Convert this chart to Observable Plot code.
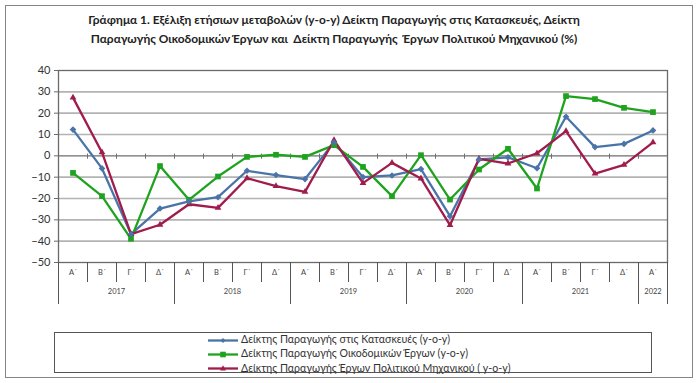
<!DOCTYPE html>
<html>
<head>
<meta charset="utf-8">
<script src="https://cdn.jsdelivr.net/npm/d3@7"></script>
<script src="https://cdn.jsdelivr.net/npm/@observablehq/plot@0.6"></script>
<style>
  html, body { margin: 0; padding: 0; background: #fff; }
  #page { position: relative; width: 700px; height: 383px; overflow: hidden; font-family: Lato, "Open Sans", sans-serif; }
  #outer { position: absolute; left: 5px; top: 5px; width: 686px; height: 371px; border: 1.5px solid #858585; }
  #title { position: absolute; left: 0; top: 10px; width: 668px; text-align: center; font-size: 11.9px; font-weight: bold; color: #222; line-height: 19px; }
  #chart { position: absolute; left: 0; top: 50px; }
  #legend { position: absolute; left: 54px; top: 332px; width: 596px; height: 39px; border: 1.5px solid #555; }
  .item { position: absolute; left: 153px; font-size: 10.6px; color: #333; height: 14px; line-height: 14px; white-space: nowrap; }
  .item svg { vertical-align: middle; margin-right: 3px; }
</style>
</head>
<body>
<div id="page">
  <div id="outer"></div>
  <div id="title">Γράφημα 1. Εξέλιξη ετήσιων μεταβολών (y-o-y) Δείκτη Παραγωγής στις Κατασκευές, Δείκτη<br>Παραγωγής Οικοδομικών Έργων και&nbsp; Δείκτη Παραγωγής&nbsp; Έργων Πολιτικού Μηχανικού (%)</div>
  <div id="chart"></div>
  <div id="legend"></div>
</div>
<script>
const quarters = ["Α΄","Β΄","Γ΄","Δ΄","Α΄","Β΄","Γ΄","Δ΄","Α΄","Β΄","Γ΄","Δ΄","Α΄","Β΄","Γ΄","Δ΄","Α΄","Β΄","Γ΄","Δ΄","Α΄"];
const years = ["2017","2018","2019","2020","2021","2022"];
const yearStart = [0, 4, 8, 12, 16, 20];
const yearEnd = [3, 7, 11, 15, 19, 20];

const seriesNames = [
  "Δείκτης Παραγωγής στις Κατασκευές (y-o-y)",
  "Δείκτης Παραγωγής Οικοδομικών Έργων (y-o-y)",
  "Δείκτης Παραγωγής Έργων Πολιτικού Μηχανικού ( y-o-y)"
];
const construction = [12.3, -5.9, -36.7, -24.7, -21.4, -19.4, -7.0, -9.0, -10.9, 6.3, -10.0, -9.2, -6.2, -28.3, -1.7, -0.7, -5.8, 18.3, 4.1, 5.6, 11.9];
const buildings    = [-8.0, -18.9, -38.9, -4.8, -20.6, -9.7, -0.5, 0.5, -0.5, 5.0, -5.2, -18.9, 0.3, -20.5, -6.4, 3.3, -15.3, 28.0, 26.6, 22.5, 20.5];
const civil        = [27.3, 1.6, -36.7, -32.3, -22.7, -24.4, -10.5, -14.2, -16.9, 7.3, -12.8, -3.3, -10.6, -32.5, -1.4, -3.6, 1.2, 11.6, -8.3, -4.2, 6.3];

const colors = ["#4a74a8", "#1fa31f", "#a01c4c"];
const symbols = ["diamond2", "square", "triangle2"];
const yTicks = [-50, -40, -30, -20, -10, 0, 10, 20, 30, 40];

const seriesValues = [construction, buildings, civil];
const data = [];
seriesValues.forEach((vals, s) => vals.forEach((v, i) => data.push({series: seriesNames[s], s, i, v})));

const idx = quarters.map((_, i) => i);
const boundaries = d3.range(quarters.length + 1).map(i => i - 0.5);
const yearBounds = yearStart.map(s => s - 0.5).concat([yearEnd[yearEnd.length - 1] + 0.5]);
const yearLabels = years.map((y, k) => ({y, x: (yearStart[k] + yearEnd[k]) / 2}));

const chart = Plot.plot({
  width: 700,
  height: 260,
  marginTop: 20,
  marginBottom: 48,
  marginLeft: 58,
  marginRight: 33,
  style: {fontFamily: "Lato, 'Open Sans', sans-serif", color: "#333", background: "transparent"},
  x: {type: "linear", domain: [-0.5, quarters.length - 0.5]},
  y: {domain: [-50, 40]},
  marks: [
    Plot.ruleY(yTicks.filter(t => t !== 0 && t !== -50 && t !== 40), {stroke: "#b3b3b3", strokeWidth: 1.6}),
    Plot.ruleY([0], {stroke: "#6e6e6e", strokeWidth: 1.3}),
    Plot.ruleX(boundaries.slice(1, -1), {y1: 0.8, y2: -1.6, stroke: "#6e6e6e", strokeWidth: 1}),
    Plot.frame({stroke: "#6a6a6a", strokeWidth: 1.3}),
    Plot.axisY({ticks: yTicks, tickSize: 4, tickPadding: 4, fontSize: 11, fill: "#333", stroke: "#6a6a6a", label: null}),
    Plot.axisX(boundaries, {tickSize: 20, tickFormat: () => "", stroke: "#555", label: null}),
    Plot.axisX(yearBounds, {tickSize: 42, tickFormat: () => "", stroke: "#555", label: null}),
    Plot.axisX(idx, {tickSize: 0, tickPadding: 7, tickFormat: i => quarters[i], fontSize: 7.5, fill: "#444", label: null}),
    Plot.text(yearLabels, {x: "x", text: "y", frameAnchor: "bottom", dy: 31, fontSize: 7.5, fill: "#444"}),
    Plot.line(data, {x: "i", y: "v", z: "series", stroke: d => colors[d.s], strokeWidth: 2.3}),
    Plot.dot(data, {x: "i", y: "v", symbol: d => symbols[d.s], fill: d => colors[d.s], stroke: "none", r: d => d.s === 0 ? 2.6 : 3})
  ]
});
document.getElementById("chart").appendChild(chart);

const legend = document.getElementById("legend");
seriesNames.forEach((name, s) => {
  const div = document.createElement("div");
  div.className = "item";
  div.style.top = (-1 + s * 14.3) + "px";
  let marker;
  if (s === 0) marker = `<path d="M15,3 L17.5,5.5 L15,8 L12.5,5.5Z" fill="${colors[s]}"/>`;
  else if (s === 1) marker = `<rect x="12.2" y="2.7" width="5.6" height="5.6" fill="${colors[s]}"/>`;
  else marker = `<path d="M15,2.3 L18,7.5 L12,7.5Z" fill="${colors[s]}"/>`;
  div.innerHTML = `<svg width="30" height="11"><line x1="0" x2="30" y1="5.5" y2="5.5" stroke="${colors[s]}" stroke-width="2.3"/>${marker}</svg>${name}`;
  legend.appendChild(div);
});
</script>
</body>
</html>
